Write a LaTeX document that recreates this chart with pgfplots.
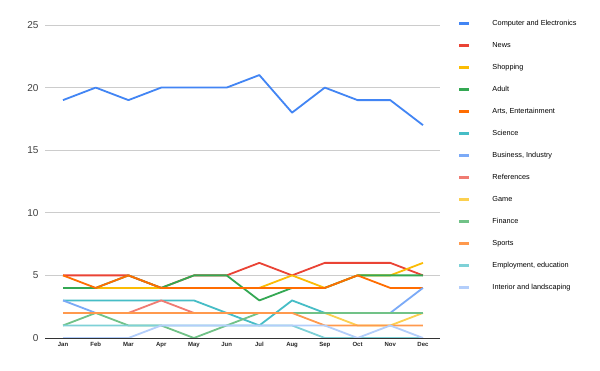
\documentclass[border=0pt]{standalone}
\usepackage{fontspec}
\setmainfont{Liberation Sans}
\usepackage{pgfplots}
\pgfplotsset{compat=1.18}
\definecolor{cA}{HTML}{4285F4}
\definecolor{cB}{HTML}{EA4335}
\definecolor{cC}{HTML}{FBBC04}
\definecolor{cD}{HTML}{34A853}
\definecolor{cE}{HTML}{FF6D01}
\definecolor{cF}{HTML}{46BDC6}
\definecolor{cG}{HTML}{7BAAF7}
\definecolor{cH}{HTML}{F07B72}
\definecolor{cI}{HTML}{FCD04F}
\definecolor{cJ}{HTML}{71C287}
\definecolor{cK}{HTML}{FF994D}
\definecolor{cL}{HTML}{7ED1D7}
\definecolor{cM}{HTML}{B3CEFB}
\begin{document}
\begin{tikzpicture}[x=1pt,y=1pt]
\fill[white] (0,0) rectangle (600,371);
\useasboundingbox (0,0) rectangle (600,371);
\begin{axis}[
  at={(45pt,33pt)}, anchor=south west,
  scale only axis, width=395pt, height=313pt,
  xmin=-0.55, xmax=11.52, ymin=0, ymax=25,
  xtick={0,...,11},
  xticklabels={Jan,Feb,Mar,Apr,May,Jun,Jul,Aug,Sep,Oct,Nov,Dec},
  ytick={5,10,15,20,25},
  extra y ticks={0},
  extra y tick style={grid style={draw=black!80, line width=0.8pt}},
  axis line style={draw=none},
  ymajorgrids, grid style={draw=black!20, line width=0.6pt},
  major tick length=0pt,
  tick style={draw=none},
  /pgf/number format/assume math mode=true,
  yticklabel style={font=\fontsize{10}{11}\selectfont, text=black!75, anchor=east, xshift=-3pt},
  xticklabel style={font=\fontsize{6}{7}\selectfont\bfseries, text=black!85, yshift=-1pt},
  every axis plot/.append style={line width=1.8pt, no markers, line join=round},
  legend style={draw=none, fill=none, at={(1.045,1.016)}, anchor=north west,
    font=\fontsize{7.3}{8}\selectfont, row sep=15.3pt, inner sep=0pt,
    nodes={inner sep=0pt, anchor=west}},
  legend cell align=left,
  legend image code/.code={\draw[line width=3pt] (0pt,0pt) -- (10pt,0pt);\path[draw=none] (0pt,0pt) -- (33pt,0pt);},
]
\addplot[cA] coordinates {(0,19)(1,20)(2,19)(3,20)(4,20)(5,20)(6,21)(7,18)(8,20)(9,19)(10,19)(11,17)};
\addplot[cB] coordinates {(0,5)(1,5)(2,5)(3,4)(4,5)(5,5)(6,6)(7,5)(8,6)(9,6)(10,6)(11,5)};
\addplot[cC] coordinates {(0,4)(1,4)(2,4)(3,4)(4,4)(5,4)(6,4)(7,5)(8,4)(9,5)(10,5)(11,6)};
\addplot[cD] coordinates {(0,4)(1,4)(2,5)(3,4)(4,5)(5,5)(6,3)(7,4)(8,4)(9,5)(10,5)(11,5)};
\addplot[cE] coordinates {(0,5)(1,4)(2,5)(3,4)(4,4)(5,4)(6,4)(7,4)(8,4)(9,5)(10,4)(11,4)};
\addplot[cF] coordinates {(0,3)(1,3)(2,3)(3,3)(4,3)(5,2)(6,1)(7,3)(8,2)(9,2)(10,2)(11,2)};
\addplot[cG] coordinates {(0,3)(1,2)(2,2)(3,2)(4,2)(5,2)(6,2)(7,2)(8,2)(9,2)(10,2)(11,4)};
\addplot[cH] coordinates {(0,2)(1,2)(2,2)(3,3)(4,2)(5,2)(6,2)(7,2)(8,2)(9,2)(10,2)(11,2)};
\addplot[cI] coordinates {(0,2)(1,2)(2,2)(3,2)(4,2)(5,2)(6,2)(7,2)(8,2)(9,1)(10,1)(11,2)};
\addplot[cJ] coordinates {(0,1)(1,2)(2,1)(3,1)(4,0)(5,1)(6,2)(7,2)(8,2)(9,2)(10,2)(11,2)};
\addplot[cK] coordinates {(0,2)(1,2)(2,2)(3,2)(4,2)(5,2)(6,2)(7,2)(8,1)(9,1)(10,1)(11,1)};
\addplot[cL] coordinates {(0,1)(1,1)(2,1)(3,1)(4,1)(5,1)(6,1)(7,1)(8,0)(9,0)(10,0)(11,0)};
\addplot[cM] coordinates {(0,0)(1,0)(2,0)(3,1)(4,1)(5,1)(6,1)(7,1)(8,1)(9,0)(10,1)(11,0)};
\legend{Computer and Electronics, News, Shopping, Adult, {Arts, Entertainment}, Science, {Business, Industry}, References, Game, Finance, Sports, {Employment, education}, Interior and landscaping}
\end{axis}
\end{tikzpicture}
\end{document}
